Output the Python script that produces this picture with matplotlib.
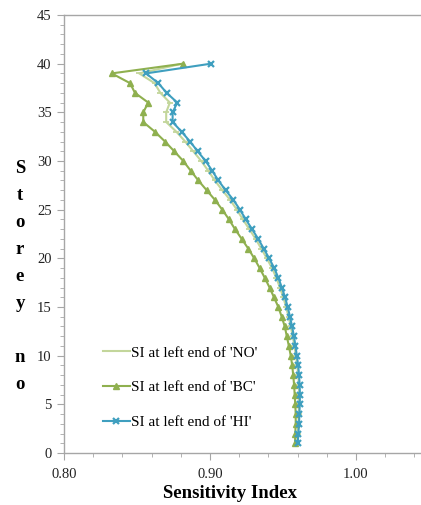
import matplotlib
matplotlib.use("Agg")
import matplotlib.pyplot as plt
from matplotlib.ticker import MultipleLocator, FormatStrFormatter

storey = list(range(1, 41))

si_no = [0.9597, 0.9601, 0.9606, 0.9608, 0.9610, 0.9611, 0.9609, 0.9604, 0.9598, 0.9589,
         0.9578, 0.9567, 0.9553, 0.9538, 0.9521, 0.9502, 0.9479, 0.9454, 0.9425, 0.9389,
         0.9351, 0.9312, 0.9269, 0.9225, 0.9184, 0.9138, 0.9084, 0.9033, 0.8988, 0.8940,
         0.8885, 0.8830, 0.8770, 0.8700, 0.8700, 0.8725, 0.8660, 0.8620, 0.8515, 0.8810]

si_bc = [0.9582, 0.9584, 0.9587, 0.9587, 0.9584, 0.9580, 0.9576, 0.9570, 0.9563, 0.9553,
         0.9540, 0.9526, 0.9512, 0.9491, 0.9468, 0.9438, 0.9408, 0.9375, 0.9340, 0.9303,
         0.9262, 0.9217, 0.9171, 0.9130, 0.9084, 0.9034, 0.8977, 0.8920, 0.8868, 0.8817,
         0.8755, 0.8692, 0.8623, 0.8543, 0.8543, 0.8577, 0.8486, 0.8452, 0.8327, 0.8817]

si_hi = [0.9601, 0.9605, 0.9610, 0.9612, 0.9615, 0.9616, 0.9614, 0.9610, 0.9604, 0.9595,
         0.9585, 0.9575, 0.9562, 0.9548, 0.9532, 0.9514, 0.9492, 0.9468, 0.9440, 0.9405,
         0.9368, 0.9330, 0.9288, 0.9245, 0.9205, 0.9160, 0.9107, 0.9057, 0.9015, 0.8970,
         0.8915, 0.8863, 0.8806, 0.8744, 0.8744, 0.8776, 0.8703, 0.8646, 0.8562, 0.9007]

labels = ["SI at left end of 'NO'", "SI at left end of 'BC'", "SI at left end of 'HI'"]
xlabel = "Sensitivity Index"
ylabel_letters = ["S", "t", "o", "r", "e", "y", "", "n", "o"]

serif = ["Liberation Serif", "DejaVu Serif"]
plt.rcParams["font.family"] = serif

fig = plt.figure(figsize=(4.21, 5.05), dpi=100)
ax = fig.add_axes([64 / 421, 52 / 505, (421 - 64) / 421, 438 / 505])

c_no = "#c3d69b"
c_bc = "#8fb04f"
c_hi = "#3f9fbf"

ax.plot(si_no, storey, color=c_no, lw=1.5, marker="_", ms=4.5, mew=1.3, label=labels[0], zorder=2)
ax.plot(si_bc, storey, color=c_bc, lw=1.5, marker="^", ms=5, label=labels[1], zorder=3)
ax.plot(si_hi, storey, color=c_hi, lw=1.5, marker="x", ms=4.5, mew=1.6, label=labels[2], zorder=4)

ax.set_xlim(0.80, 0.80 + 357 / 1460)
ax.set_ylim(0, 45)
ax.xaxis.set_major_locator(MultipleLocator(0.1))
ax.xaxis.set_minor_locator(MultipleLocator(0.02))
ax.xaxis.set_major_formatter(FormatStrFormatter("%.2f"))
ax.yaxis.set_major_locator(MultipleLocator(5))
ax.yaxis.set_minor_locator(MultipleLocator(1))

ax.spines["right"].set_visible(False)
for side in ["left", "bottom", "top"]:
    ax.spines[side].set_color("#a6a6a6")
    ax.spines[side].set_linewidth(1.0)

ax.tick_params(which="both", direction="out", color="#a6a6a6", labelsize=10.5,
               labelcolor="#222222")
ax.tick_params(which="major", length=5)
ax.tick_params(which="minor", length=3)
ax.tick_params(axis="x", pad=6)
ax.tick_params(axis="y", pad=4)

fig.text(230 / 421, 1 - 493 / 505, xlabel, ha="center", va="center",
         fontsize=13.5, fontweight="bold", family=serif)

y0 = 168
for i, ch in enumerate(ylabel_letters):
    if ch:
        fig.text(20 / 421, 1 - (y0 + i * 27.1) / 505, ch, ha="center", va="center",
                 fontsize=13.5, fontweight="bold", family=serif)

leg = ax.legend(loc="upper left", bbox_to_anchor=(33 / 357, 1 - 325 / 438),
                frameon=False, fontsize=11, labelspacing=1.37, handlelength=1.75,
                handletextpad=0.1, borderaxespad=0)

fig.savefig("out.png", dpi=100)
